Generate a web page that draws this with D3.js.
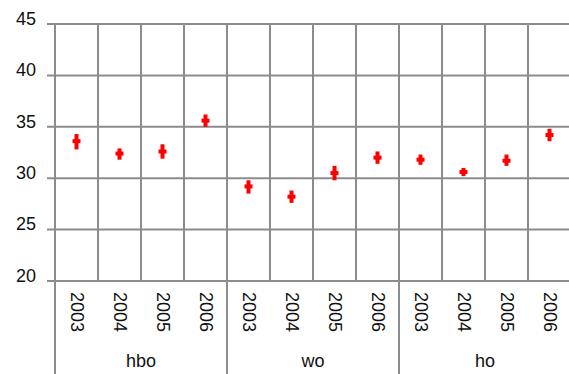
<!DOCTYPE html>
<html>
<head>
<meta charset="utf-8">
<script src="https://cdn.jsdelivr.net/npm/d3@7"></script>
<style>
  body { margin: 0; background: #fff; }
  svg { display: block; font-family: "Liberation Sans", Arial, sans-serif; }
</style>
</head>
<body>
<svg width="569" height="374"></svg>
<script>
var groups = ["hbo", "wo", "ho"];
var years = ["2003", "2004", "2005", "2006"];
var yTicks = [20, 25, 30, 35, 40, 45];

// per category (group x year): middle value and low / high of the range
var midVals = [33.6, 32.4, 32.6, 35.6, 29.2, 28.2, 30.5, 32.0, 31.8, 30.6, 31.7, 34.2];
var lowVals = [32.8, 31.8, 31.9, 35.0, 28.5, 27.6, 29.8, 31.4, 31.3, 30.2, 31.2, 33.6];
var highVals = [34.3, 32.9, 33.3, 36.2, 29.8, 28.8, 31.2, 32.6, 32.3, 31.0, 32.3, 34.8];

var svg = d3.select("svg"),
  width = +svg.attr("width"),
  height = +svg.attr("height");

// note: "top" is taken by window.top, so plot edges get their own names
var plotLeft = 55, plotRight = 571, plotTop = 24, plotBottom = 281;
var gridColor = "#8c8c8c";

var cats = [];
groups.forEach(function (g) {
  years.forEach(function (yr) { cats.push(g + "|" + yr); });
});

var data = cats.map(function (c, i) {
  return { key: c, group: c.split("|")[0], year: c.split("|")[1], mid: midVals[i], low: lowVals[i], high: highVals[i] };
});

var x = d3.scaleBand().domain(cats).range([plotLeft, plotRight]).padding(0);
var xg = d3.scaleBand().domain(groups).range([plotLeft, plotRight]).padding(0);
var y = d3.scaleLinear().domain([20, 45]).range([plotBottom, plotTop]);

// horizontal grid + tick marks
svg.append("g")
  .selectAll("line")
  .data(yTicks)
  .enter()
  .append("line")
  .attr("x1", plotLeft - 8)
  .attr("x2", width)
  .attr("y1", function (d) { return y(d); })
  .attr("y2", function (d) { return y(d); })
  .attr("stroke", gridColor)
  .attr("stroke-width", 2);

// vertical grid (category boundaries)
svg.append("g")
  .selectAll("line")
  .data(cats)
  .enter()
  .append("line")
  .attr("x1", function (d) { return x(d); })
  .attr("x2", function (d) { return x(d); })
  .attr("y1", plotTop)
  .attr("y2", plotBottom)
  .attr("stroke", gridColor)
  .attr("stroke-width", 2);

// group separators below the axis
svg.append("g")
  .selectAll("line")
  .data(groups)
  .enter()
  .append("line")
  .attr("x1", function (d) { return xg(d); })
  .attr("x2", function (d) { return xg(d); })
  .attr("y1", plotBottom)
  .attr("y2", height)
  .attr("stroke", gridColor)
  .attr("stroke-width", 2);

// y labels
svg.append("g")
  .selectAll("text")
  .data(yTicks)
  .enter()
  .append("text")
  .attr("x", 36)
  .attr("y", function (d) { return y(d) - 4; })
  .attr("text-anchor", "end")
  .attr("dominant-baseline", "middle")
  .attr("font-size", 18)
  .attr("fill", "#111")
  .text(function (d) { return d; });

// year labels (rotated)
svg.append("g")
  .selectAll("text")
  .data(data)
  .enter()
  .append("text")
  .attr("transform", function (d) {
    return "translate(" + (x(d.key) + x.bandwidth() / 2 - 1) + "," + (plotBottom + 11) + ") rotate(90)";
  })
  .attr("text-anchor", "start")
  .attr("dominant-baseline", "middle")
  .attr("font-size", 18)
  .attr("fill", "#111")
  .text(function (d) { return d.year; });

// group labels
svg.append("g")
  .selectAll("text")
  .data(groups)
  .enter()
  .append("text")
  .attr("x", function (d) { return xg(d) + xg.bandwidth() / 2; })
  .attr("y", 362)
  .attr("text-anchor", "middle")
  .attr("dominant-baseline", "middle")
  .attr("font-size", 18)
  .attr("fill", "#111")
  .text(function (d) { return d; });

// markers: range line + middle bar
var mk = svg.append("g")
  .selectAll("g")
  .data(data)
  .enter()
  .append("g");

mk.append("line")
  .attr("x1", function (d) { return x(d.key) + x.bandwidth() / 2; })
  .attr("x2", function (d) { return x(d.key) + x.bandwidth() / 2; })
  .attr("y1", function (d) { return y(d.high); })
  .attr("y2", function (d) { return y(d.low); })
  .attr("stroke", "#ff0000")
  .attr("stroke-width", 4);

mk.append("rect")
  .attr("x", function (d) { return x(d.key) + x.bandwidth() / 2 - 4; })
  .attr("y", function (d) { return y(d.mid) - 2; })
  .attr("width", 8)
  .attr("height", 4)
  .attr("fill", "#ff0000");
</script>
</body>
</html>
